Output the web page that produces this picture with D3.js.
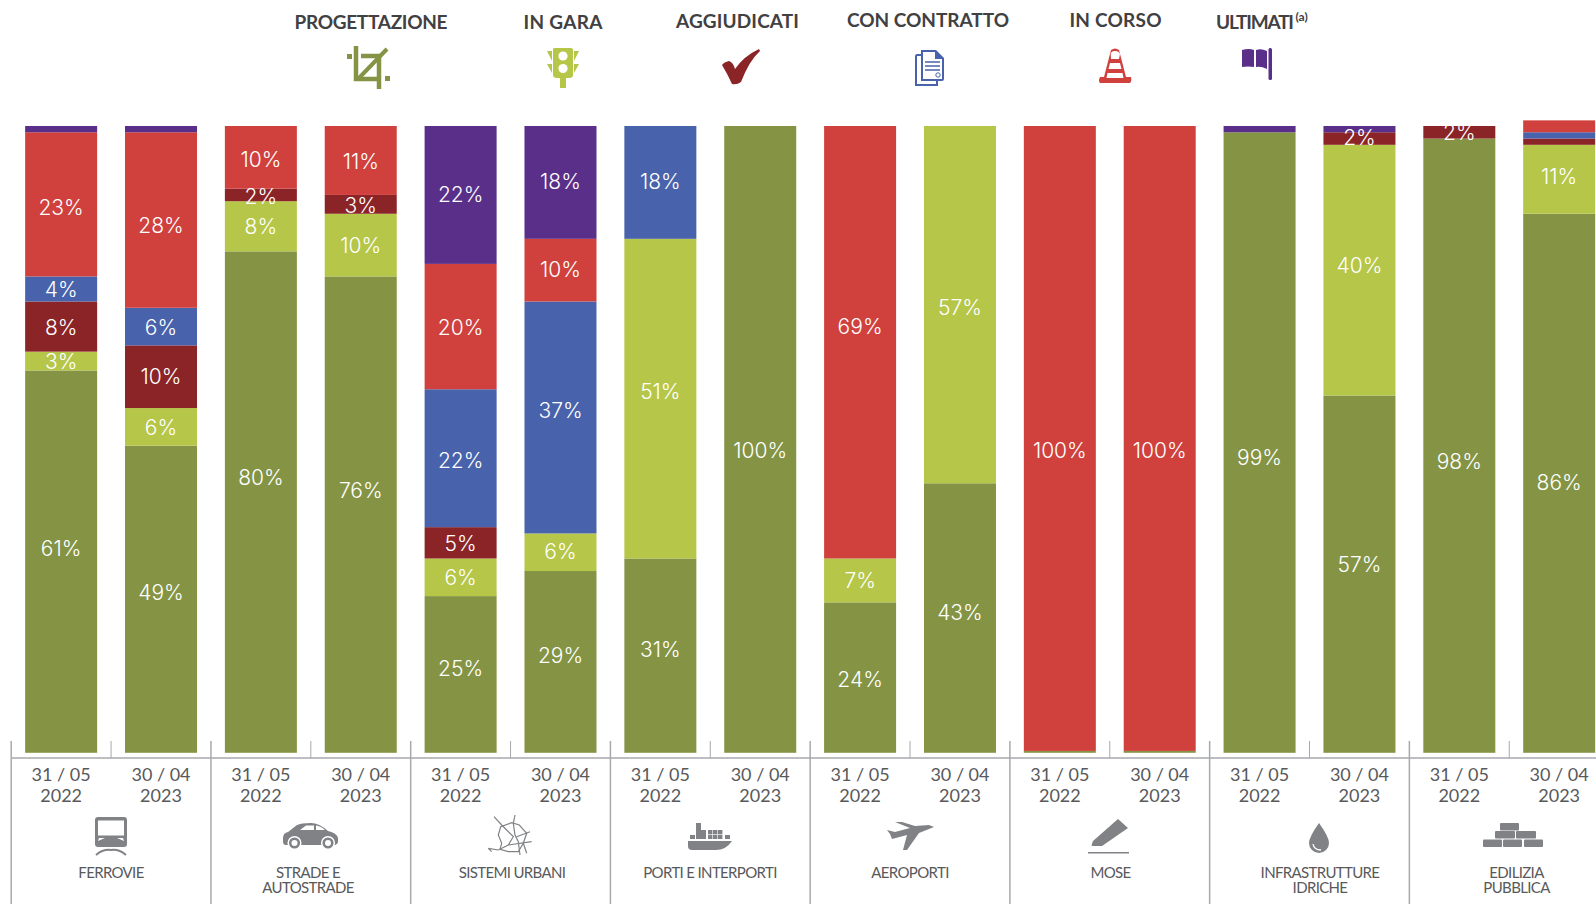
<!DOCTYPE html>
<html><head><meta charset="utf-8">
<script src="https://cdn.jsdelivr.net/npm/d3@7"></script>
<style>html,body{margin:0;padding:0;background:#fff;overflow:hidden}svg{display:block}</style>
</head><body><svg id="c" width="1596" height="904"></svg>
<script>
const groups = ["FERROVIE","STRADE E|AUTOSTRADE","SISTEMI URBANI","PORTI E INTERPORTI","AEROPORTI","MOSE","INFRASTRUTTURE|IDRICHE","EDILIZIA|PUBBLICA"];
const dates = ["31 / 05|2022","30 / 04|2023"];
const phases = ["PROGETTAZIONE","IN GARA","AGGIUDICATI","CON CONTRATTO","IN CORSO","ULTIMATI"];
const progettazione = [61,49,80,76,25,29,31,100,24,43,0.3,0.3,99,57,98,86];
const inGara        = [3,6,8,10,6,6,51,0,7,57,0,0,0,40,0,11];
const aggiudicati   = [8,10,2,3,5,0,0,0,0,0,0,0,0,2,2,1];
const conContratto  = [4,6,0,0,22,37,18,0,0,0,0,0,0,0,0,1];
const inCorso       = [23,28,10,11,20,10,0,0,69,0,99.7,99.7,0,0,0,1.9];
const ultimati      = [1,1,0,0,22,18,0,0,0,0,0,0,1,1,0,0];
const colors = ["#849444","#b6c648","#8b2427","#4862ab","#d0413e","#5a2f8a"];

// hand placed label offsets of the original (px from segment centre)
const nudges = [
 [-14,-7.5,-25,-25,-7,-7,-6.5,10.5,1,-6.5,0,0,14.5,-10.5,15.5,-1.5],
 [0,0,0,0,0,-1,-7.5,0,-1,2,0,0,0,-5.5,0,-3],
 [0,-1,.5,.5,0,0,0,0,0,0,0,0,0,-2,0,0],
 [0,0,0,0,1.5,-7.5,-1.5,0,0,0,0,0,0,0,0,0],
 [2,5,1.5,0,0,-1,0,0,-16.5,0,11,11,0,0,0,0],
 [0,0,0,0,-1,-1.5,0,0,0,0,0,0,0,0,0,0]];

const series = [progettazione,inGara,aggiudicati,conContratto,inCorso,ultimati];
const rows = progettazione.map((_,i)=>{const r={i};phases.forEach((p,k)=>r[p]=series[k][i]);return r;});
const stack = d3.stack().keys(phases)(rows);

const svg = d3.select("#c");
const x = d3.scaleBand().domain(d3.range(16)).range([11.2,11.2+16*99.87]);
const y = d3.scaleLinear().domain([0,100]).range([752.8,126]);
const barW = 72;
const bx = i => x(i)+(x.bandwidth()-barW)/2;
const cx = i => x(i)+x.bandwidth()/2;

stack.forEach((s,k)=>{
  svg.append("g").selectAll("rect").data(s.filter(d=>d[1]>d[0])).join("rect")
    .attr("x",d=>bx(d.data.i)).attr("width",barW)
    .attr("y",d=>y(d[1])).attr("height",d=>y(d[0])-y(d[1]))
    .attr("fill",colors[k]);
});
stack.forEach((s,k)=>{
  svg.append("g").selectAll("text").data(s.filter(d=>d[1]-d[0]>=2)).join("text")
    .attr("x",d=>cx(d.data.i))
    .attr("y",d=>(y(d[0])+y(d[1]))/2+nudges[k][d.data.i]+0.6)
    .attr("dy","0.36em").attr("text-anchor","middle")
    .attr("fill","#fff").attr("font-family","Inter, Lato, sans-serif").attr("font-weight",300).attr("font-size",21)
    .text(d=>Math.round(d[1]-d[0])+"%");
});

const lineCol="#a7a9ac";
const g = svg.append("g").attr("stroke",lineCol);
g.append("line").attr("x1",11).attr("x2",1596).attr("y1",758).attr("y2",758).attr("stroke-width",1.5);
d3.range(17).forEach(i=>{
  const major=i%2===0, X=x.range()[0]+i*x.step();
  g.append("line").attr("x1",X).attr("x2",X).attr("y1",741).attr("y2",major?904:758).attr("stroke-width",major?1.5:1);
});
const txt="#58595b", font="Lato, sans-serif";
d3.range(16).forEach(i=>{
  const [a,b]=dates[i%2].split("|");
  const t=svg.append("text").attr("text-anchor","middle").attr("fill",txt).attr("font-family",font).attr("font-size",18).attr("font-weight",400);
  t.append("tspan").attr("x",cx(i)).attr("y",781).text(a);
  t.append("tspan").attr("x",cx(i)).attr("y",802).text(b);
});
const groupX=[111,308,512,710,910,1110.5,1320,1516.5];
groups.forEach((n,i)=>{
  n.split("|").forEach((l,j)=>svg.append("text").attr("x",groupX[i]).attr("y",878+j*15).attr("text-anchor","middle")
    .attr("fill",txt).attr("font-family",font).attr("font-size",15).attr("letter-spacing",-0.65).text(l));
});
const headX=[371,563,737.5,928,1115.5,1255], headY=[29,29,27.5,27,27,28.5], headW=[153,79,123,162,92,78];
phases.forEach((p,i)=>{
  svg.append("text").attr("x",headX[i]).attr("y",headY[i]).attr("text-anchor","middle").attr("fill","#414042")
    .attr("font-family",font).attr("font-weight",700).attr("font-size",19)
    .attr("textLength",headW[i]).attr("lengthAdjust","spacing").text(p);
});
svg.append("text").attr("x",1295.5).attr("y",21).attr("fill","#414042").attr("font-family",font).attr("font-weight",700).attr("font-size",12).text("(a)");

function icon(X,Y,col,fn){const n=svg.append("g").attr("transform",`translate(${X},${Y})`);fn(n,col);}
const P=(n,d,f)=>n.append("path").attr("d",d).attr("fill",f);
const S=(n,d,c,w)=>n.append("path").attr("d",d).attr("fill","none").attr("stroke",c).attr("stroke-width",w);
icon(347,46,colors[0],(n,c)=>{
  S(n,"M9 0V33H30",c,4.5);S(n,"M32 43V10H14",c,4.5);S(n,"M12 32L40 3",c,4);
  n.append("rect").attr("x",0).attr("y",8).attr("width",5).attr("height",5).attr("fill",c);
  n.append("rect").attr("x",38).attr("y",30).attr("width",5).attr("height",5).attr("fill",c);
});
icon(547,47,colors[1],(n,c)=>{
  P(n,"M6 2Q6 1 8 1H24Q26 1 26 3V28Q26 31 22 31H19V41H13V31H10Q6 31 6 28Z",c);
  P(n,"M0 4H5V14Z M27 14V4H32Z M0 17H5V26Z M27 26V17H32Z",c);
  n.append("circle").attr("cx",16).attr("cy",9).attr("r",4.6).attr("fill","#fff");
  n.append("circle").attr("cx",16).attr("cy",21.5).attr("r",4.6).attr("fill","#fff");
});
icon(722,49,colors[2],(n,c)=>P(n,"M0 16Q2 13 7 12Q11 13 13 20Q22 7 37 0L38 2Q27 12 19 33Q15 36 10 35Q5 24 0 16Z",c));
icon(915,49,colors[3],(n,c)=>{
  S(n,"M6 6H2Q1 6 1 8V36H22V32",c,2);
  P(n,"M6 1H21L29 9V30Q29 32 27 32H6Z",c);
  P(n,"M8 3H20V10H27V30H8Z","#fff");
  S(n,"M10 13H25M10 17H25M10 21H25",c,1.3);
  n.append("circle").attr("cx",23).attr("cy",26).attr("r",2.2).attr("fill","none").attr("stroke",c);
});
icon(1099,48,colors[4],(n,c)=>{
  P(n,"M12 2Q16 -1 20 2L27 29H32Q33 33 31 35H1Q-1 33 1 29H5Z",c);
  P(n,"M12 11H20L21 6Q20 3 16 3Q12 3 11.7 6Z M9.5 21H22.5L21 15H11Z M7.5 30H24.5L23.5 25H8.5Z","#fff");
});
icon(1242,47,colors[5],(n,c)=>{
  P(n,"M0 3Q7 1 12 3V20Q6 19 0 20Z M14 3Q19 1 25 4V22Q19 19 14 20Z",c);
  n.append("rect").attr("x",26.5).attr("y",1).attr("width",3.5).attr("height",32).attr("rx",1.5).attr("fill",c);
});
const gr="#808285";
icon(95,817,gr,(n,c)=>{ // train
  P(n,"M3 0H29Q32 0 32 3V27Q32 30 29 30H3Q0 30 0 27V3Q0 0 3 0Z",c);
  n.append("rect").attr("x",3).attr("y",3.5).attr("width",26).attr("height",15).attr("fill","#fff");
  P(n,"M3 24L10 21H4Z M29 24L22 21H28Z","#fff");
  S(n,"M1 38Q8 32 16 33Q24 32 31 38",c,2);
});
icon(283,823,gr,(n,c)=>{ // car
  P(n,"M0 15Q0 10 5 9L14 2Q18 0 28 0Q36 0 45 8Q54 10 55 15V19Q55 21 52 22H2Q0 21 0 19Z",c);
  P(n,"M17 7L23 2.5H31V7Z M33 2.5Q38 3 42 7H33Z","#fff");
  [[11.5,20],[45,20]].forEach(d=>{n.append("circle").attr("cx",d[0]).attr("cy",d[1]).attr("r",6.3).attr("fill",c).attr("stroke","#fff").attr("stroke-width",1.5);n.append("circle").attr("cx",d[0]).attr("cy",d[1]).attr("r",3).attr("fill","#fff");});
});
icon(480,810,gr,(n,c)=>{ // network
  S(n,"M20.7 16.7L18.3 25L21.7 33.3L20 39.3L28.3 41.7L38.3 41.7L43.3 33.3L46.7 23.3L39.3 15L31.7 12.7Z",c,1.2);
  S(n,"M14 6.7L21.7 15L33.3 26.7L28.3 35L18.3 40L8.3 38.3M8.3 38.3L11.7 41.7M35 5L33.3 13.3L35 25L38.3 31.7L40 45M36.7 26.7L50 21.7M28.3 35L51.7 31.7M43.3 33.3L46.7 43.3",c,1.2);
});
icon(688,823,gr,(n,c)=>{ // ship
  P(n,"M0 18H44Q38 27 28 27H4Q0 27 0 23Z",c);
  P(n,"M8 0H13V7H18V16H8Z M2 12H7V16H2Z M37 12H42V16H37Z",c);
  [[20,7],[25,7],[30,7],[20,11.8],[25,11.8],[30,11.8]].forEach(d=>n.append("rect").attr("x",d[0]).attr("y",d[1]).attr("width",4.4).attr("height",4.2).attr("fill",c));
});
icon(887,822,gr,(n,c)=>P(n,"M0 8L8 10L23 6L8 0H15L28 4L42 3L47 5L32 11L20 28H16L20 13L5 17L3 12Z",c));
icon(1088,819,gr,(n,c)=>{ // pen
  P(n,"M30 0L40 9L14 27H4Q3 27 5 22Z",c);
  n.append("rect").attr("x",0).attr("y",33).attr("width",41).attr("height",1.5).attr("fill",c);
});
icon(1309,823,gr,(n,c)=>{ // drop
  P(n,"M10 0Q20 14 20 20A10 10 0 0 1 0 20Q0 14 10 0Z",c);
  S(n,"M4 21Q5 27 12 27","#fff",1.3);
});
icon(1483,823,gr,(n,c)=>{ // bricks
  [[17,0],[12,8],[33,8],[0,16.5],[20,16.5],[41,16.5]].forEach((d,i)=>n.append("rect").attr("x",d[0]).attr("y",d[1]).attr("width",i==0?19:(i<3?20:19)).attr("height",7.5).attr("rx",1).attr("fill",c));
});
</script></body></html>
